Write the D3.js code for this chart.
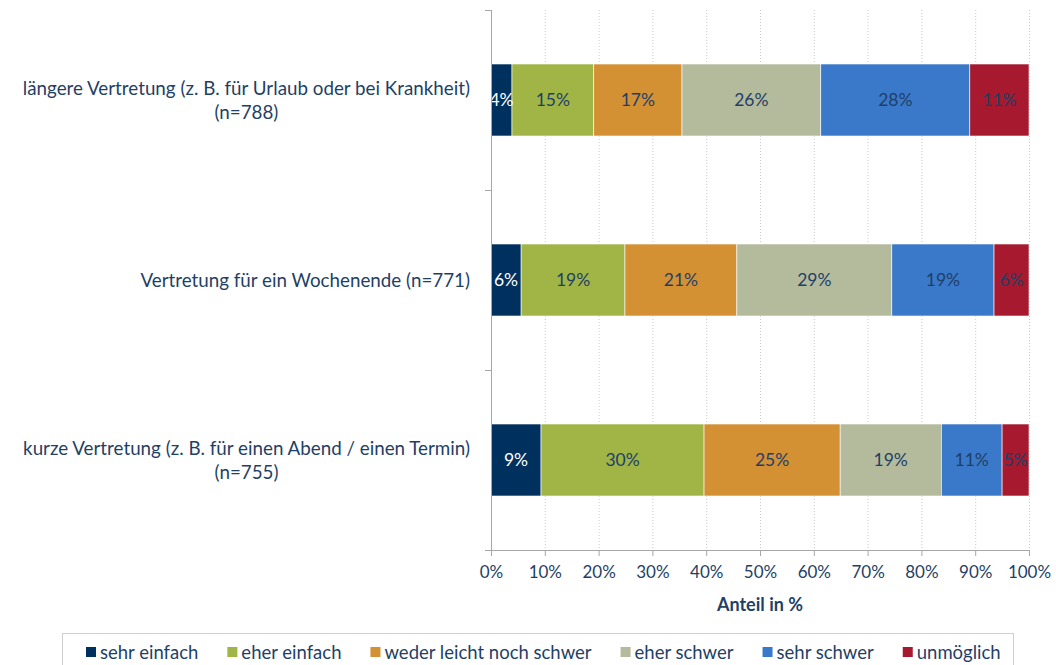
<!DOCTYPE html>
<html><head><meta charset="utf-8">
<script src="https://cdn.jsdelivr.net/npm/d3@7"></script>
<style>
body{margin:0;background:#fff;}
text{font-family:Lato,"Open Sans",sans-serif;}
</style></head>
<body><svg id="c" width="1056" height="665"></svg>
<script>
const categories = [
  ["längere Vertretung (z. B. für Urlaub oder bei Krankheit)", "(n=788)"],
  ["Vertretung für ein Wochenende (n=771)"],
  ["kurze Vertretung (z. B. für einen Abend / einen Termin)", "(n=755)"]
];
const seriesNames = ["sehr einfach","eher einfach","weder leicht noch schwer","eher schwer","sehr schwer","unmöglich"];
const seriesColors = ["#00305E","#A0B545","#D39134","#B4BA9C","#3A79C9","#A6192E"];
const labelColors = ["#ffffff","#1F3F66","#1F3F66","#1F3F66","#1F3F66","#1F3F66"];
const sehrEinfach = [3.9, 5.6, 9.3];
const eherEinfach = [15.2, 19.3, 30.3];
const weder = [16.4, 20.8, 25.3];
const eherSchwer = [25.8, 28.8, 18.8];
const sehrSchwer = [27.7, 19.0, 11.3];
const unmoeglich = [11.0, 6.5, 5.0];
const displayLabels = [
  ["4%","15%","17%","26%","28%","11%"],
  ["6%","19%","21%","29%","19%","6%"],
  ["9%","30%","25%","19%","11%","5%"]
];
const xTicks = [0,10,20,30,40,50,60,70,80,90,100];
const series = [sehrEinfach, eherEinfach, weder, eherSchwer, sehrSchwer, unmoeglich];

const svg = d3.select("#c");
const pLeft = 491, pRight = 1029, pTop = 10, pBottom = 550;
const x = d3.scaleLinear().domain([0,100]).range([pLeft,pRight]);
const y = d3.scaleBand().domain(d3.range(categories.length)).range([pTop,pBottom]).paddingInner(0.6).paddingOuter(0.3);
const txtCol = "#1F3F66";

// gridlines
svg.append("g").selectAll("line").data(xTicks.slice(1)).join("line")
  .attr("x1", d=>x(d)+0.5).attr("x2", d=>x(d)+0.5).attr("y1", pTop).attr("y2", pBottom)
  .attr("stroke", "#C4C8D0").attr("stroke-width",1).attr("stroke-dasharray","1,2");

// bars
const rows = categories.map((c,i)=>{
  let acc = 0;
  return series.map((s,j)=>{ const o={row:i, s:j, x0:acc, x1:acc+s[i]}; acc+=s[i]; return o; });
});
const segs = rows.flat();
const tot = i => d3.sum(series, s=>s[i]);
const xs = (d, v) => x(v/tot(d.row)*100);
svg.append("g").selectAll("rect").data(segs).join("rect")
  .attr("x", d=>xs(d,d.x0)).attr("width", d=>xs(d,d.x1)-xs(d,d.x0))
  .attr("y", d=>y(d.row)).attr("height", y.bandwidth())
  .attr("fill", d=>seriesColors[d.s]).attr("stroke","#ffffff").attr("stroke-width",0.6);
svg.append("g").selectAll("text").data(segs).join("text")
  .attr("x", d=>(xs(d,d.x0)+xs(d,d.x1))/2).attr("y", d=>y(d.row)+y.bandwidth()/2)
  .attr("dy","0.36em").attr("text-anchor","middle")
  .attr("font-size",17.5).attr("fill", d=>labelColors[d.s])
  .text(d=>displayLabels[d.row][d.s]);

// axes
const ax = svg.append("g").attr("transform",`translate(0,${pBottom})`)
  .call(d3.axisBottom(x).tickValues(xTicks).tickFormat(d=>d+"%").tickSize(6).tickPadding(10));
ax.select(".domain").attr("stroke","#A6A6A6").attr("d",`M${pLeft},0.5H${pRight}`);
ax.selectAll(".tick line").attr("stroke","#A6A6A6");
ax.selectAll(".tick text").attr("font-size",17).attr("fill",txtCol).attr("font-family","Lato,sans-serif");

// left axis
svg.append("line").attr("x1",pLeft+0.5).attr("x2",pLeft+0.5).attr("y1",pTop).attr("y2",pBottom)
  .attr("stroke","#A6A6A6");
const catTicks = [pTop, ...d3.range(1,categories.length).map(i=>(y(i-1)+y.bandwidth()+y(i))/2), pBottom];
svg.append("g").selectAll("line").data(catTicks).join("line")
  .attr("x1",pLeft-6).attr("x2",pLeft).attr("y1",d=>Math.round(d)+0.5).attr("y2",d=>Math.round(d)+0.5)
  .attr("stroke","#A6A6A6");

// category labels
categories.forEach((lines,i)=>{
  const cy = y(i)+y.bandwidth()/2;
  const g = svg.append("g");
  const lh = 24;
  const t = g.selectAll("text").data(lines).join("text")
    .attr("y",(d,k)=>cy + (k-(lines.length-1)/2)*lh).attr("dy","0.36em")
    .attr("text-anchor","middle").attr("font-size",18.8).attr("fill",txtCol).text(d=>d);
  const w = d3.max(t.nodes(), n=>n.getComputedTextLength());
  t.attr("x", 470 - w/2);
});

// axis title
svg.append("text").attr("x",(pLeft+pRight)/2).attr("y",605).attr("dy","0.36em")
  .attr("text-anchor","middle").attr("font-size",18).attr("font-weight","bold").attr("fill",txtCol)
  .text("Anteil in %");

// legend
svg.append("rect").attr("x",62.5).attr("y",633.5).attr("width",951).attr("height",40)
  .attr("fill","none").attr("stroke","#D0D0D0");
const lg = svg.append("g");
let lx = 86;
seriesNames.forEach((n,j)=>{
  lg.append("rect").attr("x",lx).attr("y",647).attr("width",10).attr("height",10).attr("fill",seriesColors[j]);
  const t = lg.append("text").attr("x",lx+14).attr("y",652).attr("dy","0.36em")
    .attr("font-size",18.5).attr("fill",txtCol).text(n);
  lx += 14 + t.node().getComputedTextLength() + 29;
});
</script></body></html>
